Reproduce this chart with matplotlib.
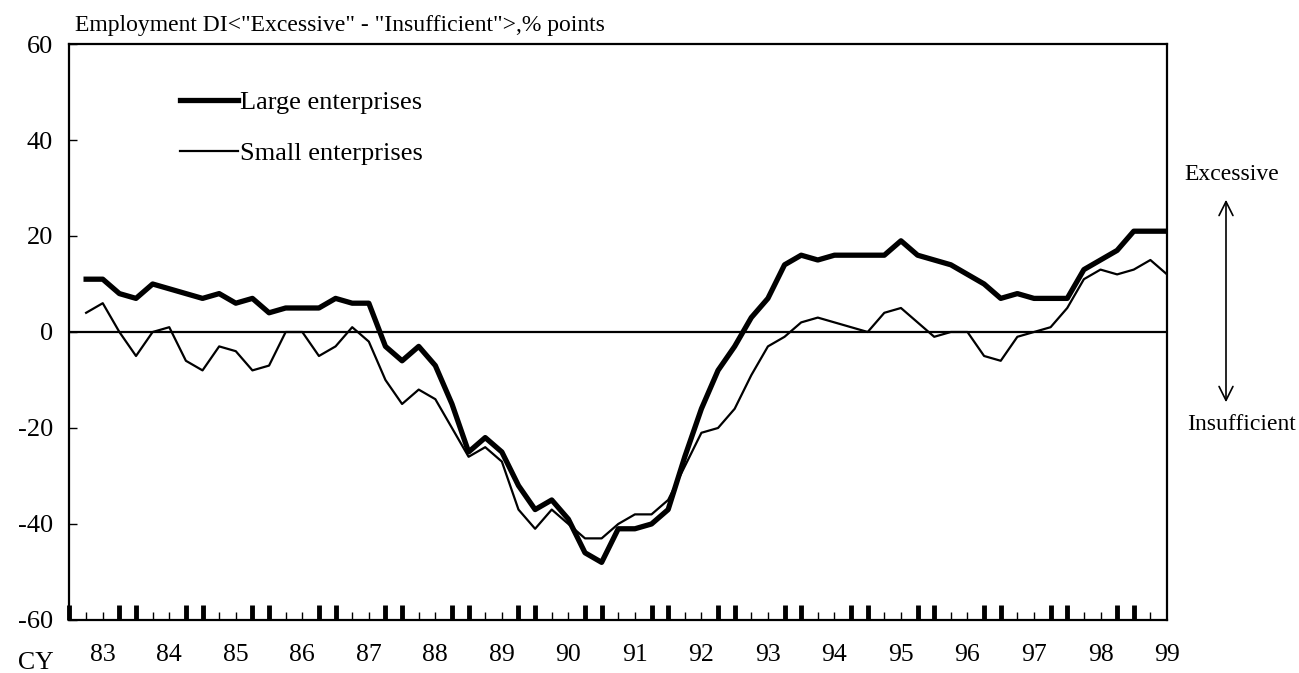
import numpy as np
import matplotlib.pyplot as plt

plt.rcParams['font.family'] = ['Liberation Serif', 'DejaVu Serif']

# quarterly Employment DI, 1983 onward
large = [11, 11, 8, 7, 10, 9, 8, 7, 8, 6, 7, 4, 5, 5, 5, 7, 6, 6, -3, -6,
         -3, -7, -15, -25, -22, -25, -32, -37, -35, -39, -46, -48, -41, -41, -40, -37,
         -26, -16, -8, -3, 3, 7, 14, 16, 15, 16, 16, 16, 16, 19, 16, 15,
         14, 12, 10, 7, 8, 7, 7, 7, 13, 15, 17, 21, 21, 21]
small = [4, 6, 0, -5, 0, 1, -6, -8, -3, -4, -8, -7, 0, 0, -5, -3, 1, -2, -10, -15,
         -12, -14, -20, -26, -24, -27, -37, -41, -37, -40, -43, -43, -40, -38, -38, -35,
         -28, -21, -20, -16, -9, -3, -1, 2, 3, 2, 1, 0, 4, 5, 2, -1,
         0, 0, -5, -6, -1, 0, 1, 5, 11, 13, 12, 13, 15, 12]
year_labels = ['83', '84', '85', '86', '87', '88', '89', '90', '91',
               '92', '93', '94', '95', '96', '97', '98', '99']
y_ticks = [-60, -40, -20, 0, 20, 40, 60]

quarters = np.arange(1, len(large) + 1)

fig = plt.figure(figsize=(12.99, 6.73), dpi=100)
ax = fig.add_axes([0.0535, 0.0788, 0.8449, 0.8558])

ax.plot(quarters, large, color='black', lw=3.8, label='Large enterprises')
ax.plot(quarters, small, color='black', lw=1.6, label='Small enterprises')
ax.axhline(0, color='black', lw=1.6)

ax.set_xlim(0, 66)
ax.set_ylim(-60, 60)

for s in ax.spines.values():
    s.set_linewidth(1.6)

ax.set_yticks(y_ticks)
ax.set_yticklabels([str(v) for v in y_ticks], fontsize=19)
ax.tick_params(axis='y', direction='in', length=6, width=1, pad=12)

# quarter ticks: pairs of bold ticks around each year change, thin ones between
all_q = np.arange(0, 66)
bold = [q for q in all_q if q % 4 in (0, 3)]
thin = [q for q in all_q if q % 4 in (1, 2)]
ax.set_xticks(bold)
ax.set_xticklabels([])
ax.tick_params(axis='x', which='major', direction='in', length=11, width=3.5)
ax.set_xticks(thin, minor=True)
ax.tick_params(axis='x', which='minor', direction='in', length=6, width=1)

for i, lab in enumerate(year_labels):
    ax.text(2 + 4 * i, -67.3, lab, ha='center', va='center', fontsize=18.5)
ax.text(-2, -69, 'CY', ha='center', va='center', fontsize=18.5)

fig.text(75 / 1299, 1 - 26 / 673, 'Employment DI<"Excessive" - "Insufficient">,% points',
         ha='left', va='center', fontsize=17)

ax.legend(loc='upper left', bbox_to_anchor=(0.079, 0.96), frameon=False,
          fontsize=19, handlelength=2.2, handletextpad=0.08, labelspacing=1.05)

# right side direction annotation
fig.text(1232 / 1299, 1 - 174 / 673, 'Excessive', ha='center', va='center', fontsize=17)
fig.text(1241 / 1299, 1 - 424 / 673, 'Insufficient', ha='center', va='center', fontsize=17)
ax.annotate('', xy=(1226 / 1299, 1 - 197 / 673), xytext=(1226 / 1299, 1 - 405 / 673),
            xycoords='figure fraction', textcoords='figure fraction',
            arrowprops=dict(arrowstyle='<->', color='black', lw=1.2,
                            mutation_scale=25))

fig.savefig('out.png', dpi=100)
